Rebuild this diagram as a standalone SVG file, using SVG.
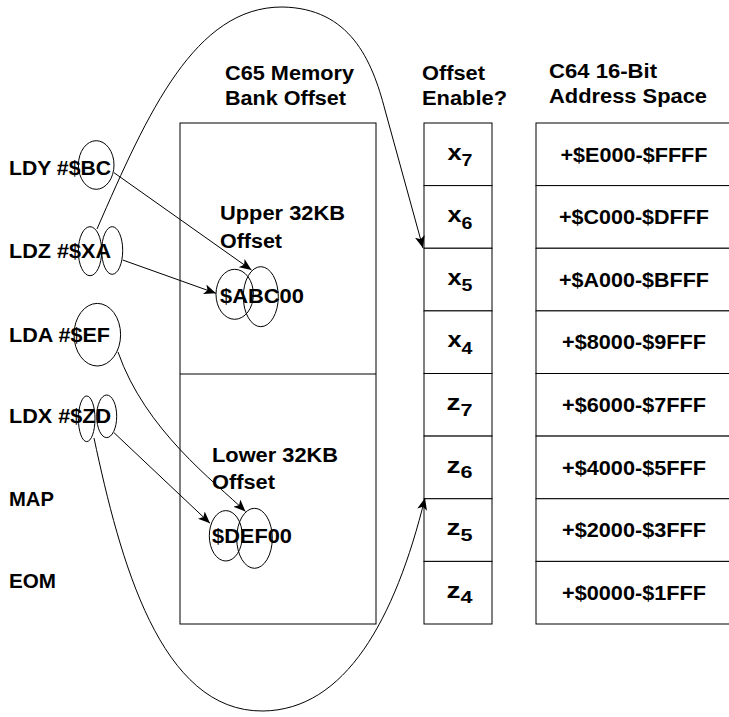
<svg xmlns="http://www.w3.org/2000/svg" width="729" height="717" viewBox="0 0 729 717">
<defs>
<style>
text{font-family:"Liberation Sans",Arial,sans-serif;font-weight:bold;font-size:19.5px;fill:#000}
.box{fill:#fff;stroke:#000;stroke-width:1}
.ell{fill:none;stroke:#000;stroke-width:1}
.con{fill:none;stroke:#000;stroke-width:1;marker-end:url(#ah)}
.cell{text-anchor:middle;font-size:22px}
.sub{font-size:17px}
.addr{text-anchor:middle}
</style>
<marker id="ah" viewBox="0 0 12 10" refX="12" refY="5" markerWidth="12" markerHeight="10" markerUnits="userSpaceOnUse" orient="auto">
<path d="M0,0 L12,5 L0,10 L3,5 z" fill="#000"/>
</marker>
</defs>
<rect width="729" height="717" fill="#fff"/>

<g id="headers">
<text x="225" y="80" textLength="129" lengthAdjust="spacingAndGlyphs">C65 Memory</text>
<text x="225" y="105" textLength="121" lengthAdjust="spacingAndGlyphs">Bank Offset</text>
<text x="422" y="80" textLength="63" lengthAdjust="spacingAndGlyphs">Offset</text>
<text x="422" y="105" textLength="85" lengthAdjust="spacingAndGlyphs">Enable?</text>
<text x="549" y="78" textLength="108" lengthAdjust="spacingAndGlyphs">C64 16-Bit</text>
<text x="549" y="103" textLength="158" lengthAdjust="spacingAndGlyphs">Address Space</text>
</g>

<g id="memory-bank">
<rect class="box" x="180" y="123" width="196" height="501"/>
<line x1="180" y1="374" x2="376" y2="374" stroke="#000" stroke-width="1"/>
<text x="220" y="220" textLength="125" lengthAdjust="spacingAndGlyphs">Upper 32KB</text>
<text x="220" y="247.5" textLength="62" lengthAdjust="spacingAndGlyphs">Offset</text>
<text x="212" y="461.5" textLength="126" lengthAdjust="spacingAndGlyphs">Lower 32KB</text>
<text x="212" y="489" textLength="63" lengthAdjust="spacingAndGlyphs">Offset</text>
</g>

<g id="abc00">
<text x="220" y="303" textLength="84" lengthAdjust="spacingAndGlyphs">$ABC00</text>
<ellipse class="ell" cx="234.7" cy="294.3" rx="18.7" ry="25"/>
<ellipse class="ell" cx="260.8" cy="296.7" rx="17.5" ry="30"/>
</g>

<g id="def00">
<text x="212" y="543" textLength="80" lengthAdjust="spacingAndGlyphs">$DEF00</text>
<ellipse class="ell" cx="225.8" cy="535.8" rx="16.5" ry="25.2"/>
<ellipse class="ell" cx="254.5" cy="538.3" rx="17.8" ry="30"/>
</g>

<g id="ldy">
<text x="9" y="175" textLength="102" lengthAdjust="spacingAndGlyphs">LDY #$BC</text>
<ellipse class="ell" cx="96.2" cy="165" rx="17.8" ry="24.3"/>
</g>
<g id="ldz">
<text x="9" y="258" textLength="102" lengthAdjust="spacingAndGlyphs">LDZ #$XA</text>
<ellipse class="ell" cx="90" cy="251.2" rx="11.7" ry="24.5"/>
<ellipse class="ell" cx="112.2" cy="250.5" rx="10.5" ry="23.8"/>
</g>
<g id="lda">
<text x="9" y="341.5" textLength="101" lengthAdjust="spacingAndGlyphs">LDA #$EF</text>
<ellipse class="ell" cx="97.3" cy="334.7" rx="23.3" ry="31.3"/>
</g>
<g id="ldx">
<text x="9" y="423" textLength="102" lengthAdjust="spacingAndGlyphs">LDX #$ZD</text>
<ellipse class="ell" cx="86.7" cy="418.8" rx="8.3" ry="22.8"/>
<ellipse class="ell" cx="106.7" cy="416.3" rx="10" ry="21.3"/>
</g>
<g id="map"><text x="9" y="506" textLength="45" lengthAdjust="spacingAndGlyphs">MAP</text></g>
<g id="eom"><text x="9" y="588" textLength="47" lengthAdjust="spacingAndGlyphs">EOM</text></g>

<g id="offset-enable">
<rect class="box" x="424" y="123" width="68" height="62.6"/>
<rect class="box" x="424" y="185.6" width="68" height="62.65"/>
<rect class="box" x="424" y="248.25" width="68" height="62.65"/>
<rect class="box" x="424" y="310.9" width="68" height="62.6"/>
<rect class="box" x="424" y="373.5" width="68" height="62.6"/>
<rect class="box" x="424" y="436.1" width="68" height="62.65"/>
<rect class="box" x="424" y="498.75" width="68" height="62.65"/>
<rect class="box" x="424" y="561.4" width="68" height="62.6"/>
<text class="cell" x="460" y="159.5" textLength="25" lengthAdjust="spacingAndGlyphs">x<tspan class="sub" dy="6.5">7</tspan></text>
<text class="cell" x="460" y="222.1" textLength="25" lengthAdjust="spacingAndGlyphs">x<tspan class="sub" dy="6.5">6</tspan></text>
<text class="cell" x="460" y="284.8" textLength="25" lengthAdjust="spacingAndGlyphs">x<tspan class="sub" dy="6.5">5</tspan></text>
<text class="cell" x="460" y="347.4" textLength="25" lengthAdjust="spacingAndGlyphs">x<tspan class="sub" dy="6.5">4</tspan></text>
<text class="cell" x="459.5" y="410" textLength="26" lengthAdjust="spacingAndGlyphs">z<tspan class="sub" dy="5.5">7</tspan></text>
<text class="cell" x="459.5" y="472.6" textLength="26" lengthAdjust="spacingAndGlyphs">z<tspan class="sub" dy="5.5">6</tspan></text>
<text class="cell" x="459.5" y="535.3" textLength="26" lengthAdjust="spacingAndGlyphs">z<tspan class="sub" dy="5.5">5</tspan></text>
<text class="cell" x="459.5" y="597.9" textLength="26" lengthAdjust="spacingAndGlyphs">z<tspan class="sub" dy="5.5">4</tspan></text>
</g>

<g id="address-space">
<rect class="box" x="536" y="123" width="195" height="62.6"/>
<rect class="box" x="536" y="185.6" width="195" height="62.65"/>
<rect class="box" x="536" y="248.25" width="195" height="62.65"/>
<rect class="box" x="536" y="310.9" width="195" height="62.6"/>
<rect class="box" x="536" y="373.5" width="195" height="62.6"/>
<rect class="box" x="536" y="436.1" width="195" height="62.65"/>
<rect class="box" x="536" y="498.75" width="195" height="62.65"/>
<rect class="box" x="536" y="561.4" width="195" height="62.6"/>
<text class="addr" x="634" y="161.5" textLength="147" lengthAdjust="spacingAndGlyphs">+$E000-$FFFF</text>
<text class="addr" x="634" y="224.1" textLength="150" lengthAdjust="spacingAndGlyphs">+$C000-$DFFF</text>
<text class="addr" x="634" y="286.8" textLength="150" lengthAdjust="spacingAndGlyphs">+$A000-$BFFF</text>
<text class="addr" x="634" y="349.4" textLength="144" lengthAdjust="spacingAndGlyphs">+$8000-$9FFF</text>
<text class="addr" x="634" y="412" textLength="144" lengthAdjust="spacingAndGlyphs">+$6000-$7FFF</text>
<text class="addr" x="634" y="474.6" textLength="144" lengthAdjust="spacingAndGlyphs">+$4000-$5FFF</text>
<text class="addr" x="634" y="537.3" textLength="144" lengthAdjust="spacingAndGlyphs">+$2000-$3FFF</text>
<text class="addr" x="634" y="599.9" textLength="144" lengthAdjust="spacingAndGlyphs">+$0000-$1FFF</text>
</g>

<g id="connectors">
<path class="con" d="M114,172.7 L251.5,270"/>
<path class="con" d="M122.7,260 L216,293.3"/>
<path class="con" d="M118,352 C145,430 215,482 245.5,511.5"/>
<path class="con" d="M114,432.7 L210,523.3"/>
<path class="con" d="M97,229 C148,112 195,7 282,7 C350,8 372,60 385,110 L423,248"/>
<path class="con" d="M94,438 C120,560 160,712 263,711 C345,710 395,620 425,498"/>
</g>
</svg>
